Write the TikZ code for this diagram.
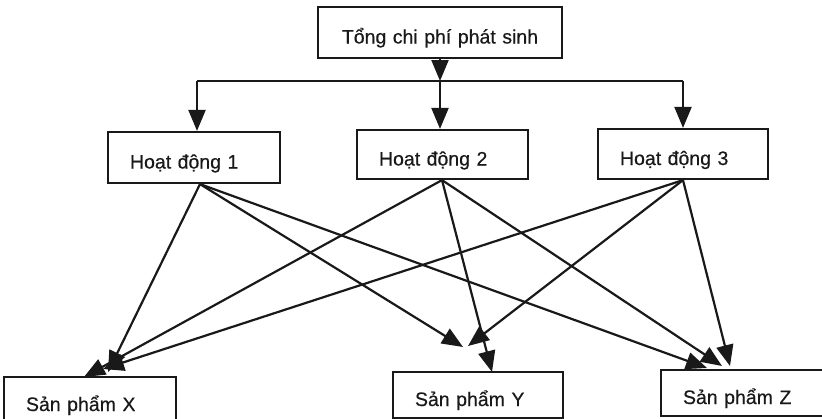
\documentclass[tikz,border=0pt]{standalone}
\usepackage{fontspec}
\setmainfont{Liberation Sans}
\newfontfamily\diafont{Liberation Sans}[FakeBold=0.4]
\usetikzlibrary{arrows.meta}
\begin{document}
\begin{tikzpicture}[x=1pt,y=-1pt,
  every node/.style={font=\diafont\fontsize{19.5}{23}\selectfont, text=black!90},
  boxnode/.style={draw=black!90, line width=2.2pt, rectangle, inner xsep=22pt, inner ysep=0pt,
     text height=24pt, text depth=2pt, align=left},
  conn/.style={draw=black!90, line width=2.2pt},
  arr/.style={conn, -{Triangle[width=17pt,length=21pt]}}
]
\useasboundingbox (0,0) rectangle (822,418);
\clip (0,0) rectangle (822,418);
\fill[white] (0,0) rectangle (822,418);

\node[boxnode, align=center, minimum width=244pt, minimum height=51pt, text width=200pt] (top) at (440,32.5) {Tổng chi phí phát sinh};
\node[boxnode, minimum width=172pt, minimum height=51pt, text width=128pt] (h1) at (194,157.5) {Hoạt động 1};
\node[boxnode, minimum width=171pt, minimum height=49pt, text width=127pt] (h2) at (442.5,154.5) {Hoạt động 2};
\node[boxnode, minimum width=170pt, minimum height=50pt, text width=126pt] (h3) at (683,154) {Hoạt động 3};
\node[boxnode, minimum width=172pt, minimum height=46pt, text width=128pt] (px) at (90,400) {Sản phẩm X};
\node[boxnode, minimum width=170pt, minimum height=46pt, text width=126pt] (py) at (478,395) {Sản phẩm Y};
\node[boxnode, minimum width=200pt, minimum height=46pt, text width=156pt] (pz) at (761,393) {Sản phẩm Z};

% junctions of the top distribution line
\coordinate (j1) at (197,81);
\coordinate (j2) at (440,81);
\coordinate (j3) at (683,81);

\draw[arr] (top.south) -- (j2);
\draw[conn] (j1) -- (j3);
\draw[arr] (j1) -- (j1 |- h1.north);
\draw[arr] (j2) -- (j2 |- h2.north);
\draw[arr] (j3) -- (j3 |- h3.north);

% sources on bottoms of activity boxes
\coordinate (s1) at ([xshift=6pt]h1.south);
\coordinate (s2) at ([xshift=-0.5pt]h2.south);
\coordinate (s3) at (h3.south);

% tips
\coordinate (tx1) at (108,372);
\coordinate (tx2) at (84,377);
\coordinate (tx3) at (103,369);
\coordinate (ty1) at (463,347);
\coordinate (ty2) at (492,372);
\coordinate (ty3) at (468,346);
\coordinate (tz1) at (707,368);
\coordinate (tz2) at (722,366);
\coordinate (tz3) at (730,366);

\draw[arr] (s1) -- (tx1);
\draw[arr] (s2) -- (tx2);
\draw[arr] (s3) -- (tx3);
\draw[arr] (s1) -- (ty1);
\draw[arr] (s2) -- (ty2);
\draw[arr] (s3) -- (ty3);
\draw[arr] (s1) -- (tz1);
\draw[arr] (s2) -- (tz2);
\draw[arr] (s3) -- (tz3);
\end{tikzpicture}
\end{document}
